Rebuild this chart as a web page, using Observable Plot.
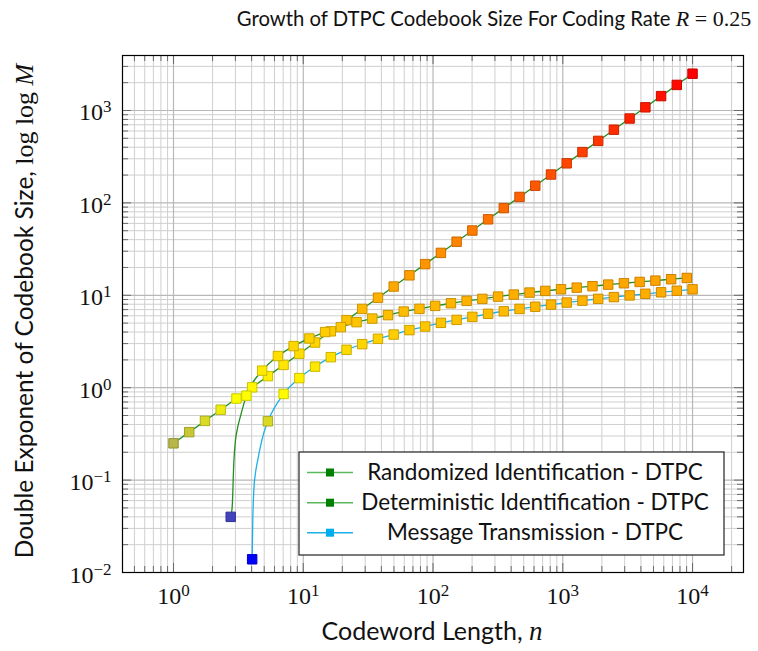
<!DOCTYPE html>
<html><head><meta charset="utf-8">
<script src="https://cdn.jsdelivr.net/npm/d3@7"></script>
<script src="https://cdn.jsdelivr.net/npm/@observablehq/plot@0.6"></script>
<style>
body{margin:0;background:#fff;}
#chart{position:relative;width:758px;height:651px;}
</style></head><body><div id="chart"></div>
<script>
// ---- data ----
const randN = [1, 1.322, 1.748, 2.310, 3.054, 4.037, 5.337, 7.055, 9.326, 12.33, 16.30, 21.54, 28.48, 37.65, 49.77, 65.79, 86.97, 115.0, 152.0, 200.9, 265.6, 351.1, 464.2, 613.6, 811.1, 1072, 1417, 1874, 2477, 3275, 4329, 5722, 7565, 10000];
const randY = [0.25, 0.3305, 0.4369, 0.5775, 0.7635, 1.009, 1.334, 1.764, 2.332, 3.082, 4.074, 5.386, 7.12, 9.412, 12.44, 16.45, 21.74, 28.75, 38.0, 50.23, 66.4, 87.78, 116.0, 153.4, 202.8, 268.1, 354.4, 468.5, 619.3, 818.6, 1082, 1431, 1891, 2500];
const detN = [2.76, 3.649, 4.823, 6.376, 8.429, 11.14, 14.73, 19.47, 25.74, 34.03, 44.98, 59.46, 78.61, 103.9, 137.4, 181.6, 240.0, 317.3, 419.5, 554.5, 733.1, 969.1, 1281, 1694, 2239, 2959, 3912, 5172, 6837, 9038];
const detY = [0.040, 0.82, 1.53, 2.2, 2.82, 3.41, 4.0, 4.52, 5.12, 5.6, 6.1, 6.67, 7.13, 7.68, 8.2, 8.7, 9.14, 9.68, 10.18, 10.7, 11.15, 11.63, 12.1, 12.54, 13.05, 13.5, 13.95, 14.41, 14.93, 15.4];
const msgN = [4.037, 5.337, 7.055, 9.326, 12.33, 16.30, 21.54, 28.48, 37.65, 49.77, 65.79, 86.97, 115.0, 152.0, 200.9, 265.6, 351.1, 464.2, 613.6, 811.1, 1072, 1417, 1874, 2477, 3275, 4329, 5722, 7565, 10000];
const msgY = [0.0139, 0.433, 0.855, 1.27, 1.69, 2.14, 2.57, 2.96, 3.38, 3.76, 4.2, 4.59, 5.03, 5.42, 5.84, 6.3, 6.71, 7.12, 7.52, 7.93, 8.34, 8.75, 9.15, 9.56, 9.97, 10.38, 10.78, 11.19, 11.6];
// unmarked points of the steep rising parts of the curves
const detRiseN = [2.835, 2.916, 3.006, 3.097, 3.28];
const detRiseY = [0.052, 0.154, 0.274, 0.352, 0.49];
const msgRiseN = [4.084, 4.16, 4.285, 4.465, 4.68, 4.966];
const msgRiseY = [0.0375, 0.0792, 0.12, 0.167, 0.232, 0.324];

const xTickValues = [1, 10, 100, 1000, 10000];
const xTickLabels = ["10^0", "10^1", "10^2", "10^3", "10^4"];
const yTickValues = [0.01, 0.1, 1, 10, 100, 1000];
const yTickLabels = ["10^\u22122", "10^\u22121", "10^0", "10^1", "10^2", "10^3"];
const seriesNames = ["Randomized Identification - DTPC", "Deterministic Identification - DTPC", "Message Transmission - DTPC"];

// ---- build ----
const SANS = "Lato, 'Noto Sans', sans-serif";
const SERIF = "'Liberation Serif', 'DejaVu Serif', serif";
const W = 758, H = 651, mL = 122, mR = 15, mT = 55, mB = 79;
const pW = W - mL - mR, pH = H - mT - mB;

const pts = (N, Y) => N.map((n, i) => ({n, y: Y[i]}));
const randPts = pts(randN, randY), detPts = pts(detN, detY), msgPts = pts(msgN, msgY);
const detLine = [...detPts, ...pts(detRiseN, detRiseY)].sort((a, b) => a.n - b.n);
const msgLine = [...msgPts, ...pts(msgRiseN, msgRiseY)].sort((a, b) => a.n - b.n);

const xDom = [0.4045, 24700], yDom = [0.01, 3936];
const minorOf = (lo, hi) => {
  const out = [];
  for (let e = -3; e <= 5; e++) for (let m = 2; m <= 9; m++) { const v = m * 10 ** e; if (v > lo && v < hi) out.push(v); }
  return out;
};
const xMinor = minorOf(...xDom), yMinor = minorOf(...yDom);

const allY = [...randY, ...detY, ...msgY];
const hot = d3.piecewise(d3.interpolateRgb, ["#0000ff", "#ffff00", "#ff8000", "#ff0000"]);

const GRIDMIN = "#cfcfcf", GRIDMAJ = "#b8b8b8", TICK = "#6a6a6a";
const LINEG = "#1f8f1f", LINEC = "#1ab0ea";

const dots = (data) => [
  Plot.dot(data, {x: "n", y: "y", symbol: "square", r: 5.3, fill: "y", stroke: "y", strokeWidth: 1}),
  Plot.dot(data, {x: "n", y: "y", symbol: "square", r: 5.3, fill: "none", stroke: "black", strokeOpacity: 0.2, strokeWidth: 1})
];

const plot = Plot.plot({
  width: W, height: H,
  marginLeft: mL, marginRight: mR, marginTop: mT, marginBottom: mB,
  x: {type: "log", domain: xDom, axis: null},
  y: {type: "log", domain: yDom, axis: null},
  color: {type: "log", domain: [d3.min(allY), d3.max(allY)], interpolate: hot},
  style: {background: "white", overflow: "visible"},
  marks: [
    Plot.ruleX(xMinor, {stroke: GRIDMIN, strokeWidth: 1}),
    Plot.ruleY(yMinor, {stroke: GRIDMIN, strokeWidth: 1}),
    Plot.ruleX(xTickValues, {stroke: GRIDMAJ, strokeWidth: 1.2}),
    Plot.ruleY(yTickValues, {stroke: GRIDMAJ, strokeWidth: 1.2}),
    // inward ticks on all four sides
    Plot.ruleX(xTickValues, {stroke: TICK, insetTop: pH - 9}),
    Plot.ruleX(xTickValues, {stroke: TICK, insetBottom: pH - 9}),
    Plot.ruleX(xMinor, {stroke: TICK, insetTop: pH - 6}),
    Plot.ruleX(xMinor, {stroke: TICK, insetBottom: pH - 6}),
    Plot.ruleY(yTickValues, {stroke: TICK, insetRight: pW - 9}),
    Plot.ruleY(yTickValues, {stroke: TICK, insetLeft: pW - 9}),
    Plot.ruleY(yMinor, {stroke: TICK, insetRight: pW - 6}),
    Plot.ruleY(yMinor, {stroke: TICK, insetLeft: pW - 6}),
    Plot.line(randPts, {x: "n", y: "y", stroke: LINEG, strokeWidth: 1.3}),
    Plot.line(detLine, {x: "n", y: "y", stroke: LINEG, strokeWidth: 1.3, curve: "monotone-x"}),
    Plot.line(msgLine, {x: "n", y: "y", stroke: LINEC, strokeWidth: 1.3, curve: "monotone-x"}),
    ...dots(randPts), ...dots(detPts), ...dots(msgPts),
    Plot.frame({stroke: "black", strokeWidth: 1.2}),
    Plot.text(xTickValues, {x: d => d, text: (d, i) => xTickLabels[i], frameAnchor: "bottom", lineAnchor: "bottom", dy: 31, fontSize: 24, fontFamily: SERIF, fill: "#111", ariaLabel: "xtl"}),
    Plot.text(yTickValues, {y: d => d, text: (d, i) => yTickLabels[i], frameAnchor: "left", lineAnchor: "bottom", textAnchor: "end", dx: -11, dy: 10, fontSize: 24, fontFamily: SERIF, fill: "#111", ariaLabel: "ytl"})
  ]
});
document.getElementById("chart").appendChild(plot);

const svg = d3.select(plot);
// superscripts for tick labels
svg.selectAll("text").each(function () {
  const s = this.textContent;
  if (!/^10\^/.test(s)) return;
  const [base, exp] = s.split("^");
  const el = d3.select(this);
  el.text(null);
  el.append("tspan").text(base);
  el.append("tspan").attr("dy", -8).attr("font-size", 17).text(exp);
});

function rich(x, y, parts, {anchor = "middle", rotate = 0, size = 21} = {}) {
  const t = svg.append("text")
    .attr("text-anchor", anchor)
    .attr("transform", `translate(${x},${y}) rotate(${rotate})`)
    .attr("font-size", size).attr("fill", "#111")
    .style("white-space", "pre");
  for (const p of parts) {
    t.append("tspan").attr("font-family", p.f || SANS)
      .attr("font-style", p.i ? "italic" : null)
      .attr("font-size", p.s || null).text(p.t);
  }
  return t;
}

rich(494, 26, [{t: "Growth of DTPC Codebook Size For Coding Rate "}, {t: "R", f: SERIF, i: true, s: 22}, {t: " = 0.25", f: SERIF, s: 22}], {size: 20.3});
rich(432, 640, [{t: "Codeword Length, "}, {t: "n", f: SERIF, i: true, s: 27}], {size: 25});
rich(33, 311, [{t: "Double Exponent of Codebook Size, "}, {t: "log log ", f: SERIF, s: 26}, {t: "M", f: SERIF, i: true, s: 26}], {rotate: -90, size: 24.5});

// legend
const lg = svg.append("g");
lg.append("rect").attr("x", 299).attr("y", 452).attr("width", 425).attr("height", 103)
  .attr("fill", "white").attr("stroke", "#222").attr("stroke-width", 1.2);
const legendStyles = [
  {line: "#5cb85c", mark: "#008000"},
  {line: "#5cb85c", mark: "#008000"},
  {line: "#1ab0ea", mark: "#00aeef"}
];
const rowY = [472.5, 502.7, 532.7];
seriesNames.forEach((name, i) => {
  const y = rowY[i];
  lg.append("line").attr("x1", 307).attr("x2", 353).attr("y1", y).attr("y2", y)
    .attr("stroke", legendStyles[i].line).attr("stroke-width", 1.5);
  lg.append("rect").attr("x", 326).attr("y", y - 4).attr("width", 8).attr("height", 8)
    .attr("fill", legendStyles[i].mark);
  lg.append("text").attr("x", 535).attr("y", y + 7.5).attr("text-anchor", "middle")
    .attr("font-family", SANS).attr("font-size", 22.5).attr("fill", "#111").text(name);
});
</script>
</body></html>
